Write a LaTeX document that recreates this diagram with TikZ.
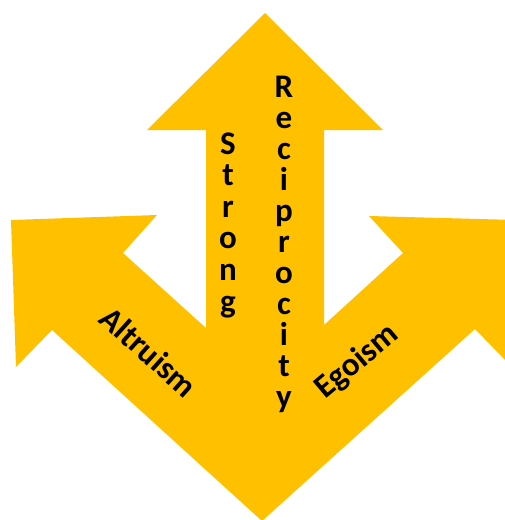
\documentclass[tikz,border=0pt]{standalone}
\usepackage{fontspec}
\setmainfont{Carlito}
\definecolor{gold}{HTML}{FFC000}
\tikzset{
  arrowfill/.style={fill=gold, draw=none},
  lbl/.style={font=\fontsize{33}{34}\selectfont\bfseries, inner sep=0pt, text=black},
  letter/.style={lbl, anchor=base}
}
\begin{document}
\begin{tikzpicture}[x=1pt,y=-1pt]
\useasboundingbox (0,0) rectangle (505,520);
\begin{scope}
\clip (0,0) rectangle (505,520);
\path[arrowfill] (265,13) -- (383,130) -- (324,130) -- (324,325) -- (403,253) -- (369,216)
  -- (516,220) -- (511,366) -- (475,329) -- (262,521) -- (52,330) -- (16,367)
  -- (11,220) -- (157,215) -- (123,253) -- (206,328) -- (206,130) -- (147,130) -- cycle;
\end{scope}
% Reciprocity
\foreach \ch [count=\i from 0] in {R,e,c,i,p,r,o,c,i,t,y}
  \node[letter] (rec\i) at (284,{97+31*\i}) {\ch};
% Strong
\foreach \ch [count=\i from 0] in {S,t,r,o,n,g}
  \node[letter] (str\i) at (228,{154+31.6*\i}) {\ch};
\node[lbl, rotate=-42] (altruism) at (149,352) {Altruism};
\node[lbl, rotate=40] (egoism) at (357,362) {Egoism};
\end{tikzpicture}
\end{document}
